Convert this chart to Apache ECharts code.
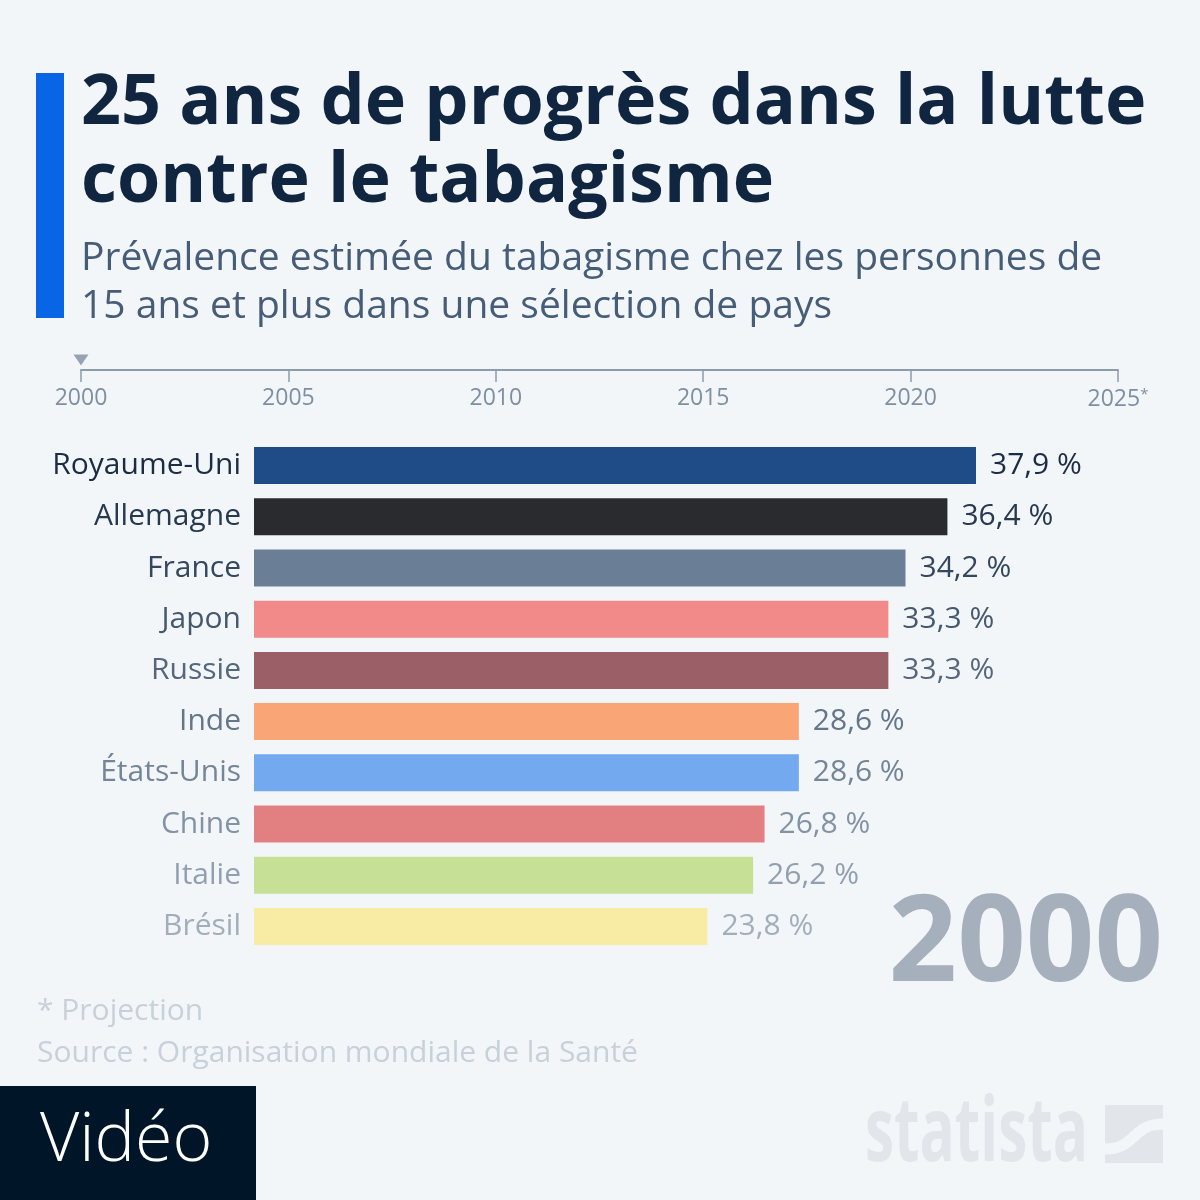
<!DOCTYPE html>
<html>
<head>
<meta charset="utf-8">
<script src="https://cdn.jsdelivr.net/npm/echarts@6/dist/echarts.min.js"></script>
<style>
html,body{margin:0;padding:0;background:#f3f6f9;}
#chart{width:1200px;height:1200px;}
#err{position:absolute;left:300px;top:500px;width:800px;font:14px monospace;color:red;white-space:pre-wrap;}
</style>
</head>
<body>
<div id="chart"></div>
<div id="err"></div>
<script>
// ---- data ----
const countries = ['Royaume-Uni','Allemagne','France','Japon','Russie','Inde','États-Unis','Chine','Italie','Brésil'];
const values = [37.9, 36.4, 34.2, 33.3, 33.3, 28.6, 28.6, 26.8, 26.2, 23.8];
const barColors = ['#1f4b87','#2a2b2e','#6a7f96','#f28a8a','#9b5f67','#f9a576','#72a9ef','#e27f81','#c6e196','#f8eba4'];
const textShades = ['#1b2c45','#27394f','#34475e','#45586e','#55677c','#64768a','#748597','#8393a4','#929fb0','#a2aebb'];
const yearTicks = [2000, 2005, 2010, 2015, 2020, 2025];
const currentYear = 2000;

window.onerror = function (m, s, l, c, e) { document.getElementById('err').textContent += m + '\n' + (e && e.stack) + '\n'; };

const chart = echarts.init(document.getElementById('chart'));
const FONT = '"Open Sans", "Noto Sans", sans-serif';

// measure logo text width to squeeze it into the logo's footprint
const mctx = document.createElement('canvas').getContext('2d');
mctx.font = 'bold 90px "Open Sans"';
const logoScale = 223 / mctx.measureText('statista').width;

const baseOption = {
  backgroundColor: '#f3f6f9',
  animation: false,
  textStyle: {fontFamily: FONT},
  graphic: [
    {type: 'rect', shape: {x: 36, y: 73, width: 28, height: 245}, style: {fill: '#0866e6'}},
    {type: 'text', x: 81, y: 65, style: {text: '25 ans de progrès dans la lutte\ncontre le tabagisme', font: 'bold 70px ' + FONT, fill: '#102640', lineHeight: 78}},
    {type: 'text', x: 81, y: 235, style: {text: 'Prévalence estimée du tabagisme chez les personnes de\n15 ans et plus dans une sélection de pays', font: '39px ' + FONT, fill: '#465d78', lineHeight: 48}},
    {type: 'text', x: 1163, y: 887, style: {text: String(currentYear), font: 'bold 120px ' + FONT, align: 'right', fill: '#a6b0bc'}},
    {type: 'text', x: 37, y: 996, style: {text: '* Projection', font: '30px ' + FONT, fill: '#c8d0d9'}},
    {type: 'text', x: 37, y: 1038, style: {text: 'Source : Organisation mondiale de la Santé', font: '30px ' + FONT, fill: '#c8d0d9'}},
    {type: 'rect', shape: {x: 0, y: 1086, width: 256, height: 114}, style: {fill: '#011529'}},
    {type: 'text', x: 40, y: 1108, style: {text: 'Vidéo', font: '300 68px ' + FONT, fill: '#ffffff'}},
    {type: 'text', x: 865, y: 1135, scaleX: logoScale, style: {text: 'statista', font: 'bold 90px "Open Sans"', fill: '#e2e6eb', verticalAlign: 'middle'}},
    {type: 'rect', shape: {x: 1105, y: 1105, width: 58, height: 58}, style: {fill: '#e2e6eb'}},
    {type: 'bezierCurve', shape: {x1: 1105, y1: 1149, cpx1: 1136, cpy1: 1149, cpx2: 1132, cpy2: 1124, x2: 1163, y2: 1124}, style: {stroke: '#f3f6f9', lineWidth: 11, fill: null}}
  ]
};
try { chart.setOption(baseOption); } catch (e) { document.getElementById('err').textContent += 'base: ' + e.stack + '\n'; }

const chartOption = {
  grid: [
    {left: 254, width: 762, top: 440, height: 512},
    {left: 81, right: 82, top: 369, height: 1}
  ],
  xAxis: [
    {gridIndex: 0, type: 'value', min: 0, max: 40, show: false},
    {gridIndex: 1, type: 'value', min: yearTicks[0], max: yearTicks[yearTicks.length-1], interval: 5,
     position: 'bottom',
     axisLine: {show: true, lineStyle: {color: '#8d9cab', width: 2}},
     axisTick: {show: true, length: 12, inside: false, lineStyle: {color: '#8d9cab', width: 1.5}},
     splitLine: {show: false},
     axisLabel: {margin: 17, fontSize: 23, color: '#7d8fa1', fontFamily: FONT,
       formatter: function (v) { return v === 2025 ? '{y|2025}{s|*}' : String(v); },
       rich: {y: {fontSize: 23, color: '#7d8fa1', fontFamily: FONT}, s: {fontSize: 15, color: '#7d8fa1', verticalAlign: 'top', padding: [0,0,10,0]}}
     }}
  ],
  yAxis: [
    {gridIndex: 0, type: 'category', data: countries, inverse: true,
     axisLine: {show: false}, axisTick: {show: false},
     axisLabel: {margin: 13, fontSize: 30, fontFamily: FONT, padding: [3, 0, 0, 0],
       color: function (v) { return textShades[countries.indexOf(v)]; }}},
    {gridIndex: 1, type: 'value', min: 0, max: 1, show: false}
  ],
  series: [
    {type: 'bar', xAxisIndex: 0, yAxisIndex: 0, barWidth: 37,
     data: values.map(function (v, i) { return {
       value: v,
       itemStyle: {color: barColors[i]},
       label: {color: textShades[i]}
     }; }),
     label: {show: true, position: 'right', distance: 14, fontSize: 30, fontFamily: FONT, padding: [3, 0, 0, 0],
       formatter: function (p) { return p.value.toFixed(1).replace('.', ',') + ' %'; }}
    },
    {type: 'scatter', xAxisIndex: 1, yAxisIndex: 1, data: [[currentYear, 0]],
     symbol: 'triangle', symbolRotate: 180, symbolSize: [15, 11], symbolOffset: [0, -10],
     itemStyle: {color: '#7d8fa1'}, silent: true}
  ]
};
try { chart.setOption(chartOption); } catch (e) { document.getElementById('err').textContent += 'chart: ' + e.stack + '\n'; }
</script>
</body>
</html>
